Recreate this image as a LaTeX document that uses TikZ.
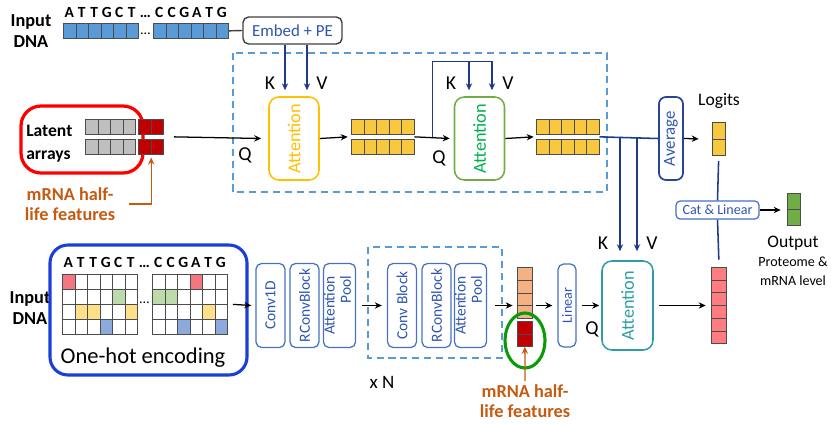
\documentclass[tikz,border=0pt]{standalone}
\usepackage{fontspec}
\setmainfont{Carlito}
\usepackage{tikz}
\usetikzlibrary{calc,fit,arrows.meta,shapes.geometric}
\definecolor{seqblue}{HTML}{5B9BD5}
\definecolor{cellgray}{HTML}{BFBFBF}
\definecolor{darkred}{HTML}{C00000}
\definecolor{yel}{HTML}{F8C83E}
\definecolor{peach}{HTML}{F4B183}
\definecolor{pinkc}{HTML}{FF7C80}
\definecolor{outgreen}{HTML}{70AD47}
\definecolor{ohred}{HTML}{F4777F}
\definecolor{ohgreen}{HTML}{BDDBAA}
\definecolor{ohyel}{HTML}{FFE08A}
\definecolor{ohblue}{HTML}{8EA9DB}
\definecolor{navy}{HTML}{1F3A8A}
\definecolor{dashblue}{HTML}{5B9BD5}
\definecolor{boxblue}{HTML}{4472C4}
\definecolor{boxtext}{HTML}{2F55B0}
\definecolor{attyellow}{HTML}{FFC000}
\definecolor{attgreen}{HTML}{70AD47}
\definecolor{attgreentxt}{HTML}{00B050}
\definecolor{teal}{HTML}{2E9EA6}
\definecolor{halforange}{HTML}{C55A11}
\definecolor{onehotblue}{HTML}{1A3FD9}
\definecolor{hlgreen}{HTML}{0A9A0A}
\tikzstyle{cell}=[draw=black!70, line width=0.5pt, inner sep=0pt, anchor=north west, minimum width=0.3125cm, minimum height=0.375cm]
\tikzstyle{arr}=[-{Stealth[length=5pt,width=4.5pt]}, line width=0.9pt]
\tikzstyle{kvline}=[draw=navy, line width=1.1pt]
\tikzstyle{kv}=[kvline, -{Stealth[length=5pt,width=4.5pt]}]
\tikzstyle{orangearr}=[draw=halforange, line width=0.9pt, -{Stealth[length=5pt,width=4.5pt]}]
\tikzstyle{block}=[draw=boxblue, line width=0.9pt, rounded corners=4pt, text=boxtext, inner sep=0pt, minimum width=0.725cm, minimum height=2.1cm, font=\fontsize{11}{13}\selectfont]
\tikzstyle{att}=[line width=1.1pt, rounded corners=7pt, inner sep=0pt, minimum width=1.25cm, minimum height=2.075cm, font=\fontsize{13}{13}\selectfont]
\tikzstyle{dashbox}=[draw=dashblue, line width=0.9pt, dash pattern=on 5pt off 3.5pt]
\tikzstyle{lbl}=[font=\fontsize{14}{14}\selectfont, inner sep=0pt]
\tikzstyle{hd}=[font=\bfseries\fontsize{13}{15}\selectfont, align=center, inner sep=0pt]
\tikzstyle{mrna}=[text=halforange, font=\bfseries\fontsize{13}{14.5}\selectfont, align=center, inner sep=0pt]
\tikzstyle{seqtext}=[font=\bfseries\fontsize{11}{11}\selectfont, inner sep=0pt]
\renewcommand{\arraystretch}{0.88}
\newcommand{\seqtxt}{\foreach \nuc in {A,T,T,G,C,T}{\makebox[0.3125cm]{\nuc}}\makebox[0.375cm]{…}\foreach \nuc in {C,C,G,A,T,G}{\makebox[0.3125cm]{\nuc}}}
\newcommand{\cellrow}[5]{
\foreach \i in {1,...,#4} {
	\node[cell, fill=#5] (#1\i) at ({#2+(\i-1)*12.5}, #3) {};
}
}
\newcommand{\cellcol}[7]{
\foreach \i in {1,...,#4} {
	\node[cell, minimum width=#5*0.025cm, minimum height=#6*0.025cm, fill=#7] (#1\i) at (#2, {#3+(\i-1)*#6}) {};
}
}
\newcommand{\onehot}[3]{
\foreach \r in {1,...,4} {
	\foreach \cc in {1,...,6} {
		\node[cell, fill=white] (#1\r\cc) at ({#2+(\cc-1)*12.5}, {#3+(\r-1)*15}) {};
	}
}
}

\begin{document}
\begin{tikzpicture}[x=0.025cm, y=-0.025cm]
\useasboundingbox (0,0) rectangle (831,423);
\draw[dashbox] (233,53) rectangle (607,192);
\draw[dashbox] (368,247) rectangle (502,358);

\node[hd] (dnaA) at (31,31) {Input\\DNA};
\node[seqtext] (seqA) at (145.5,12) {\seqtxt};
\cellrow{sa}{63}{23}{6}{seqblue}
\cellrow{sb}{153}{23}{6}{seqblue}
\node[inner sep=0pt, font=\fontsize{10}{10}\selectfont] (dotsA) at (145.5,34) {…};
\node[draw=black!75, line width=1pt, rounded corners=4pt, text=boxtext, minimum width=2.475cm, minimum height=0.675cm, inner sep=0pt, font=\fontsize{12}{12}\selectfont] (embed) at (292.5,30.5) {Embed + PE};
\draw[draw=black!75, line width=1pt] (sb6.east) -- (embed.west);

\draw[draw=red, line width=2.3pt, rounded corners=0.5cm] (21,106) rectangle (143,173);
\node[font=\bfseries\fontsize{12.5}{16.4}\selectfont, align=left, anchor=west, inner sep=0pt] (latTxt) at (26,143.5) {Latent\\arrays};
\cellrow{ga}{85}{119}{4}{cellgray}
\cellrow{gb}{85}{139}{4}{cellgray}
\cellrow{ra}{138}{119}{2}{darkred}
\cellrow{rb}{138}{139}{2}{darkred}
\node[fit=(ga1)(rb2), inner sep=0pt] (lat) {};
\node[mrna] (mhA) at (70,204) {mRNA half-\\life features};
\draw[orangearr, shorten >=2pt] ($(mhA.east)+(14,0)$) -| (rb1.south east);

\node[att, draw=attyellow, text=attyellow] (attA) at (294,138.5) {\rotatebox{90}{Attention}};
\node[att, draw=attgreen, text=attgreentxt] (attB) at (479.5,138.5) {\rotatebox{90}{Attention}};
\cellrow{ya}{351}{119}{5}{yel}
\cellrow{yb}{351}{139}{5}{yel}
\cellrow{yc}{536}{119}{5}{yel}
\cellrow{yd}{536}{139}{5}{yel}
\node[fit=(ya1)(yb5), inner sep=0pt] (y1) {};
\node[fit=(yc1)(yd5), inner sep=0pt] (y2) {};
\node[draw=navy!80!boxblue, line width=1.2pt, rounded corners=5pt, text=boxtext, inner sep=0pt, minimum width=0.6cm, minimum height=2.075cm, font=\fontsize{12}{12}\selectfont] (avg) at (671,138.5) {\rotatebox{90}{Average}};
\cellcol{lg}{712}{122}{2}{12.5}{16.5}{yel}
\node[fit=(lg1)(lg2), inner sep=0pt] (lg) {};
\node[font=\fontsize{12.5}{12.5}\selectfont, inner sep=0pt] (logits) at (719,101) {Logits};

\coordinate (kA) at ($(attA.north)+(-9,-6)$);
\coordinate (vA) at ($(attA.north)+(13,-6)$);
\draw[kv] (embed.south -| kA) -- (kA);
\draw[kv] (embed.south -| vA) -- (vA);
\node[lbl] (kAl) at (270,83) {K};
\node[lbl] (vAl) at (322,83) {V};
\node[lbl] (qAl) at (245,155) {Q};
\draw[arr] ($(lat.east)+(10,0)$) -- ($(attA.west)+(-7,0)$);
\draw[arr] (attA.east) -- ($(y1.west)+(-3,0)$);

\coordinate (kB) at ($(attB.north)+(-10.5,-6)$);
\coordinate (vB) at ($(attB.north)+(12.5,-6)$);
\coordinate (brB) at ($(y1.east)+(18,0)$);
\draw[arr] (y1.east) -- ($(attB.west)+(-4,0)$);
\draw[kvline] (brB) -- ++(0,-75.5) coordinate (topB) -- (topB -| vB);
\draw[kv] (topB -| kB) -- (kB);
\draw[kv] (topB -| vB) -- (vB);
\node[lbl] (kBl) at (451,83) {K};
\node[lbl] (vBl) at (508,83) {V};
\node[lbl] (qBl) at (439,158) {Q};
\draw[arr] (attB.east) -- ($(y2.west)+(-2,0)$);
\draw[kvline] (y2.east) -- (avg.west);
\draw[arr] (avg.east) -- ($(lg.west)+(-13,0)$);

\node[draw=boxblue, line width=0.9pt, rounded corners=3pt, text=boxtext, inner sep=0pt, minimum width=2.075cm, minimum height=0.45cm, font=\fontsize{10}{10}\selectfont] (cat) at (717.5,210) {Cat \& Linear};
\cellcol{og}{787}{193}{2}{13}{16}{outgreen}
\node[fit=(og1)(og2), inner sep=0pt] (og) {};
\draw[arr] (cat.east) -- ($(og.west |- cat.east)+(-6,0)$);
\node[font=\fontsize{12.5}{12.5}\selectfont, inner sep=0pt] (outT) at (793,243) {Output};
\node[font=\fontsize{10}{13.5}\selectfont, align=center, inner sep=0pt] (outS) at (793,271.5) {Proteome \&\\mRNA level};
\draw[kvline] ($(lg.south)+(0,5)$) -- (cat.north);

\node[hd] (dnaB) at (30,308) {Input\\DNA};
\draw[draw=onehotblue, line width=2.2pt, rounded corners=0.45cm] (50,245) rectangle (247,375);
\node[seqtext] (seqB) at (144.5,262) {\seqtxt};
\onehot{oa}{62}{274}
\onehot{ob}{152}{274}
\foreach \n/\col in {oa11/ohred, oa25/ohgreen, oa32/ohyel, oa33/ohyel, oa36/ohyel, oa44/ohblue, ob14/ohred, ob21/ohgreen, ob22/ohgreen, ob35/ohyel, ob43/ohblue, ob46/ohblue}
	\node[cell, fill=\col] (f\n) at (\n.north west) {};
\node[fit=(ob11)(ob46), inner sep=0pt] (ohB) {};
\node[inner sep=0pt, font=\fontsize{10}{10}\selectfont] (dotsB) at (144.5,303) {…};
\node[font=\fontsize{16}{16}\selectfont, inner sep=0pt] (ohTxt) at (143,358) {One-hot encoding};

\node[block] (conv1) at (270.5,305.5) {\rotatebox{90}{Conv1D}};
\node[block] (rconv1) at (304.5,305.5) {\rotatebox{90}{RConvBlock}};
\node[block] (pool1) at (339.5,305.5) {\rotatebox{90}{\begin{tabular}{@{}r@{}}Attention\\Pool\end{tabular}}};
\node[block] (conv2) at (402,305.5) {\rotatebox{90}{Conv Block}};
\node[block] (rconv2) at (436.5,305.5) {\rotatebox{90}{RConvBlock}};
\node[block] (pool2) at (470.5,305.5) {\rotatebox{90}{\begin{tabular}{@{}r@{}}Attention\\Pool\end{tabular}}};
\node[font=\fontsize{13.5}{13.5}\selectfont, inner sep=0pt] (xN) at (382,382) {x N};
\draw[arr] ($(ohB.east)+(5,0)$) -- ($(conv1.west)+(-4,0)$);
\draw[arr] ($(pool1.east)+(6,0)$) -- ($(conv2.west)+(-5,0)$);

\cellcol{pc}{517}{267}{4}{15}{12.75}{peach}
\cellcol{dr}{517}{321}{2}{15}{12.5}{darkred}
\node[fit=(pc1)(pc4), inner sep=0pt] (pc) {};
\node[draw=hlgreen, line width=2.2pt, ellipse, minimum width=1cm, minimum height=1.375cm, inner sep=0pt] (hl) at (525,340.5) {};
\node[mrna] (mhB) at (525,401) {mRNA half-\\life features};
\draw[orangearr, shorten <=2pt] (mhB.north) -- (dr2.south);
\node[block, minimum width=0.45cm, minimum height=2.075cm, font=\fontsize{10}{10}\selectfont] (lin) at (567,305.5) {\rotatebox{90}{Linear}};
\node[att, draw=teal, text=teal, minimum width=1.275cm, minimum height=2.225cm] (attC) at (627.5,305.5) {\rotatebox{90}{Attention}};
\cellcol{pk}{711}{267}{6}{15}{12.7}{pinkc}
\node[fit=(pk1)(pk6), inner sep=0pt] (pk) {};
\draw[arr] ($(pool2.east)+(8,0)$) -- ($(pool2.east -| pc.west)+(-4,0)$);
\draw[arr] ($(pool2.east -| pc.east)+(3,0)$) -- ($(lin.west)+(-5,0)$);
\draw[arr] ($(lin.east)+(5,0)$) -- ($(attC.west)+(-2,0)$);
\draw[arr] ($(attC.east)+(5,0)$) -- ($(attC.east -| pk.west)+(-5,0)$);
\node[lbl] (qCl) at (592,329) {Q};

\coordinate (kC) at ($(attC.north)+(-7.5,-9)$);
\coordinate (vC) at ($(attC.north)+(9.5,-9)$);
\draw[kv] (y2.east -| kC) -- (kC);
\draw[kv] (y2.east -| vC) -- (vC);
\node[lbl] (kCl) at (603,243) {K};
\node[lbl] (vCl) at (652,243) {V};
\draw[kvline] (cat.south) -- ($(pk.north)+(0,-7)$);
\end{tikzpicture}
\end{document}
